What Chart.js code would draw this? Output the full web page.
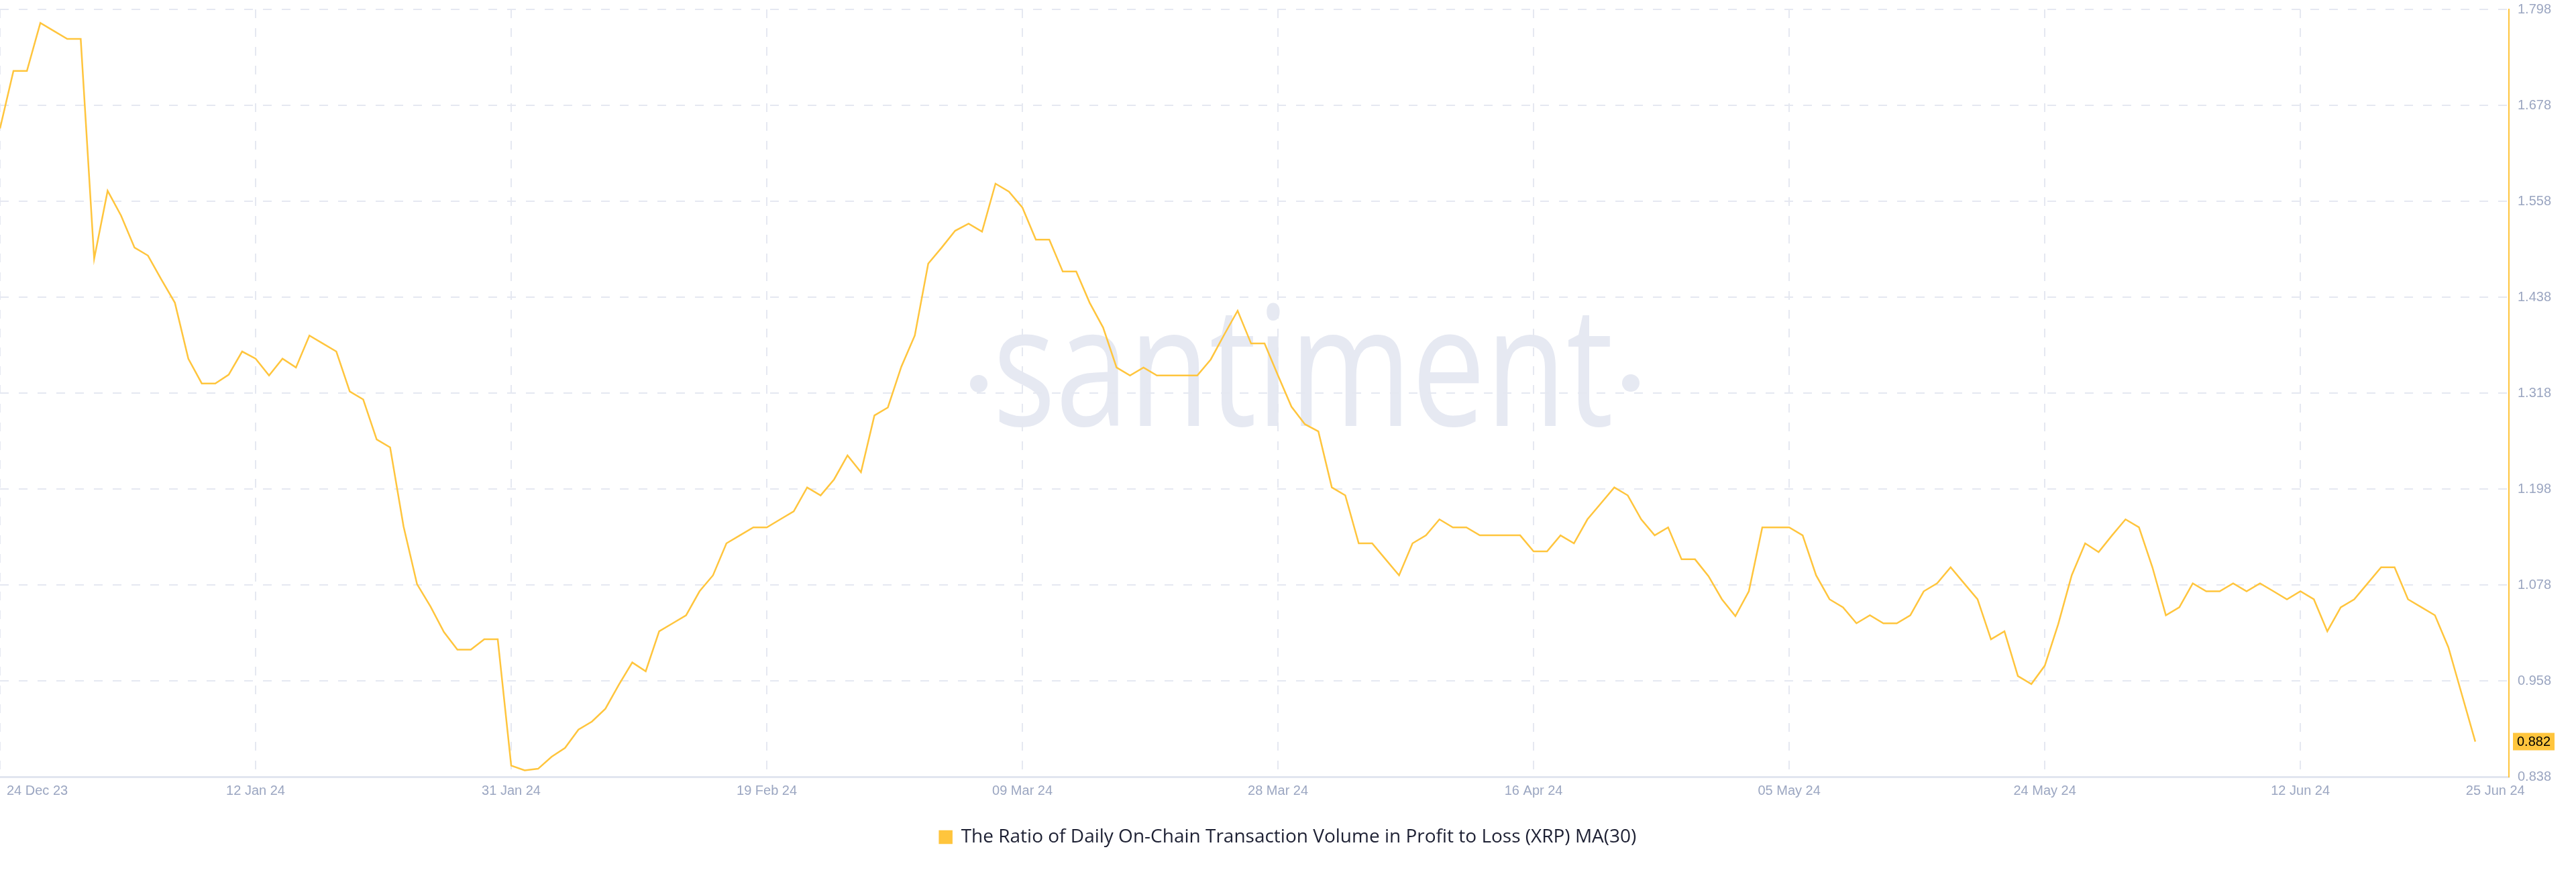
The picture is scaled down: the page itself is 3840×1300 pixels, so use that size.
<!DOCTYPE html>
<html>
<head>
<meta charset="utf-8">
<title>XRP Profit to Loss Ratio MA(30)</title>
<script src="https://cdn.jsdelivr.net/npm/chart.js@4.4.1/dist/chart.umd.min.js"></script>
<style>
  html, body { margin: 0; padding: 0; background: #ffffff; }
  #chart { display: block; }
</style>
</head>
<body>
<canvas id="chart" width="3840" height="1300"></canvas>
<script>
// Serie diaria, dia 0 = 24 Dec 23
const seriesName = 'The Ratio of Daily On-Chain Transaction Volume in Profit to Loss (XRP) MA(30)';
const dateTickDays = [0, 19, 38, 57, 76, 95, 114, 133, 152, 171];
const dateTickLabels = ['24 Dec 23', '12 Jan 24', '31 Jan 24', '19 Feb 24', '09 Mar 24', '28 Mar 24', '16 Apr 24', '05 May 24', '24 May 24', '12 Jun 24'];
const lastDayLabel = '25 Jun 24';
const yTicks = [0.838, 0.958, 1.078, 1.198, 1.318, 1.438, 1.558, 1.678, 1.798];

const ratioValues = [
    1.649, 1.721, 1.721, 1.781, 1.771, 1.761, 1.761, 1.486, 1.571, 1.540,
    1.500, 1.490, 1.460, 1.431, 1.361, 1.330, 1.330, 1.341, 1.370, 1.361,
    1.340, 1.361, 1.350, 1.390, 1.380, 1.370, 1.320, 1.310, 1.260, 1.250,
    1.151, 1.079, 1.051, 1.019, 0.997, 0.997, 1.010, 1.010, 0.852, 0.846,
    0.848, 0.863, 0.874, 0.897, 0.907, 0.923, 0.953, 0.981, 0.970, 1.020,
    1.030, 1.040, 1.070, 1.090, 1.130, 1.140, 1.150, 1.150, 1.160, 1.170,
    1.200, 1.190, 1.210, 1.240, 1.219, 1.290, 1.300, 1.351, 1.390, 1.480,
    1.500, 1.521, 1.530, 1.520, 1.580, 1.570, 1.550, 1.510, 1.510, 1.470,
    1.470, 1.431, 1.400, 1.350, 1.340, 1.350, 1.340, 1.340, 1.340, 1.340,
    1.360, 1.391, 1.421, 1.380, 1.380, 1.340, 1.301, 1.279, 1.270, 1.200,
    1.190, 1.130, 1.130, 1.110, 1.090, 1.130, 1.140, 1.160, 1.150, 1.150,
    1.140, 1.140, 1.140, 1.140, 1.120, 1.120, 1.140, 1.130, 1.160, 1.180,
    1.200, 1.190, 1.160, 1.140, 1.150, 1.110, 1.110, 1.089, 1.060, 1.039,
    1.070, 1.150, 1.150, 1.150, 1.140, 1.090, 1.060, 1.050, 1.030, 1.040,
    1.030, 1.030, 1.040, 1.070, 1.080, 1.100, 1.080, 1.060, 1.010, 1.020,
    0.964, 0.954, 0.977, 1.029, 1.090, 1.130, 1.119, 1.140, 1.160, 1.150,
    1.100, 1.040, 1.050, 1.080, 1.070, 1.070, 1.080, 1.070, 1.080, 1.070,
    1.060, 1.070, 1.060, 1.020, 1.050, 1.060, 1.080, 1.100, 1.100, 1.060,
    1.050, 1.040, 1.000, 0.941, 0.882
];

const yellow = '#ffc53d';
const tickColor = '#9ba6c1';
const gridColor = '#e5e8f1';
const tickFont = { family: '"Liberation Sans", Arial, sans-serif', size: 20 };

// Marca de agua
const watermarkPlugin = {
    id: 'watermark',
    beforeDraw(chart) {
        const ctx = chart.ctx;
        ctx.save();
        ctx.fillStyle = '#e6e9f2';
        ctx.font = '250px "Open Sans"';
        ctx.textBaseline = 'alphabetic';
        ctx.textAlign = 'left';
        const w = ctx.measureText('santiment').width;
        ctx.translate(1480, 635);
        ctx.scale(925 / w, 1);
        ctx.fillText('santiment', 0, 0);
        ctx.restore();
        ctx.save();
        ctx.fillStyle = '#e6e9f2';
        [[1459, 572], [2431, 571]].forEach(p => {
            ctx.beginPath();
            ctx.arc(p[0], p[1], 13, 0, Math.PI * 2);
            ctx.fill();
        });
        ctx.restore();
    }
};

// Etiquetas de fechas (la primera y la ultima alineadas a la izquierda)
const dateLabelsPlugin = {
    id: 'dateLabels',
    afterDraw(chart) {
        const ctx = chart.ctx;
        const xs = chart.scales.x;
        const y = chart.chartArea.bottom + 21;
        ctx.save();
        ctx.font = '20px "Liberation Sans", Arial, sans-serif';
        ctx.fillStyle = tickColor;
        ctx.textBaseline = 'middle';
        dateTickDays.forEach((d, i) => {
            const x = xs.getPixelForValue(d);
            if (i === 0) {
                ctx.textAlign = 'left';
                ctx.fillText(dateTickLabels[i], x + 10, y);
            } else {
                ctx.textAlign = 'center';
                ctx.fillText(dateTickLabels[i], x, y);
            }
        });
        ctx.textAlign = 'left';
        ctx.fillText(lastDayLabel, xs.getPixelForValue(ratioValues.length - 1) - 14, y);
        ctx.restore();
    }
};

// Etiqueta del ultimo valor
const lastValuePlugin = {
    id: 'lastValue',
    afterDraw(chart) {
        const ctx = chart.ctx;
        const last = ratioValues[ratioValues.length - 1];
        const y = chart.scales.y.getPixelForValue(last);
        const x = chart.chartArea.right + 6;
        ctx.save();
        ctx.fillStyle = yellow;
        ctx.fillRect(x, y - 13, 62, 26);
        ctx.fillStyle = '#000000';
        ctx.font = '20px "Liberation Sans", Arial, sans-serif';
        ctx.textAlign = 'center';
        ctx.textBaseline = 'middle';
        ctx.fillText(last.toFixed(3), x + 31, y + 1);
        ctx.restore();
    }
};

new Chart(document.getElementById('chart'), {
    type: 'line',
    data: {
        datasets: [{
            label: seriesName,
            data: ratioValues.map((v, i) => ({ x: i, y: v })),
            borderColor: yellow,
            backgroundColor: yellow,
            borderWidth: 2.5,
            pointRadius: 0,
            tension: 0,
            fill: false
        }]
    },
    options: {
        responsive: false,
        animation: false,
        layout: { padding: { top: 14, bottom: 28, left: 0, right: 0 } },
        plugins: {
            tooltip: { enabled: false },
            legend: {
                position: 'bottom',
                labels: {
                    boxWidth: 18,
                    boxHeight: 18,
                    padding: 10,
                    color: '#1d2033',
                    font: { family: '"Open Sans", "Liberation Sans", sans-serif', size: 28 }
                }
            }
        },
        scales: {
            x: {
                type: 'linear',
                min: 0,
                max: 186.5,
                afterBuildTicks: s => { s.ticks = dateTickDays.map(v => ({ value: v })); },
                afterFit: s => { s.height = 66; },
                ticks: { display: false },
                grid: { color: gridColor, lineWidth: 2, drawTicks: false },
                border: { display: true, color: '#e1e5ef', width: 3, dash: [13, 15] }
            },
            y: {
                position: 'right',
                min: 0.838,
                max: 1.798,
                afterBuildTicks: s => { s.ticks = yTicks.map(v => ({ value: v })); },
                afterFit: s => { s.width = 100; s.paddingTop = 0; s.paddingBottom = 0; },
                ticks: {
                    color: tickColor,
                    font: tickFont,
                    padding: 13,
                    callback: v => v.toFixed(3)
                },
                grid: { color: gridColor, lineWidth: 2, drawTicks: false },
                border: { display: true, color: yellow, width: 2, dash: [13, 15] }
            }
        }
    },
    plugins: [watermarkPlugin, dateLabelsPlugin, lastValuePlugin]
});
</script>
</body>
</html>
